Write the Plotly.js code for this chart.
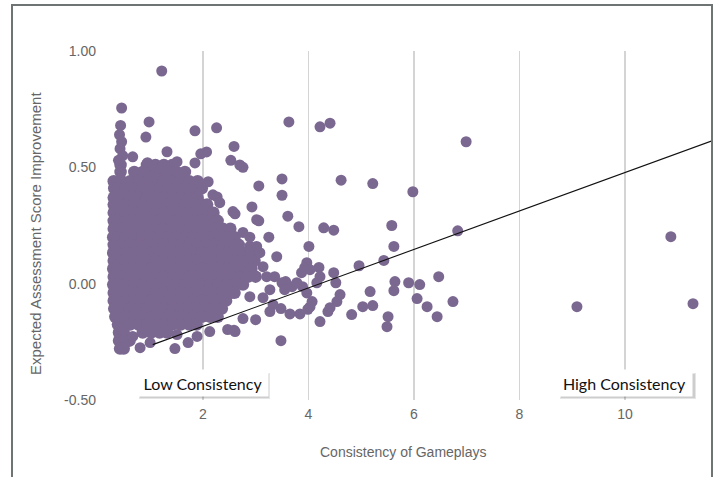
<!DOCTYPE html>
<html>
<head>
<meta charset="utf-8">
<script src="https://cdn.plot.ly/plotly-3.0.1.min.js"></script>
<style>
  html, body { margin: 0; padding: 0; background: #ffffff; }
  #chart { width: 716px; height: 477px; }
</style>
</head>
<body>
<div id="chart"></div>
<script>
// ---- Data ----
// Dense core of the cloud: one y level per row, with the x values found on that row
const coreLevels = [0.51, 0.48, 0.44, 0.41, 0.37, 0.34, 0.305, 0.27, 0.236, 0.20, 0.167, 0.133, 0.099, 0.064, 0.03, -0.004, -0.039, -0.073, -0.107, -0.142, -0.176, -0.21, -0.245, -0.279];
const coreRows = [
  [0.44, 0.94, 1.10, 1.26, 1.42],
  [0.44, 0.70, 0.86, 1.02, 1.18, 1.34, 1.50, 1.66],
  [0.31, 0.46, 0.62, 0.78, 0.94, 1.10, 1.26, 1.42, 1.58, 1.74, 1.90],
  [0.32, 0.38, 0.54, 0.70, 0.86, 1.02, 1.18, 1.34, 1.50, 1.66, 1.82, 1.98],
  [0.31, 0.46, 0.62, 0.78, 0.94, 1.10, 1.26, 1.42, 1.58, 1.74, 1.90],
  [0.31, 0.38, 0.54, 0.70, 0.86, 1.02, 1.18, 1.34, 1.50, 1.66, 1.82, 1.98, 2.08],
  [0.31, 0.46, 0.62, 0.78, 0.94, 1.10, 1.26, 1.42, 1.58, 1.74, 1.90, 2.06, 2.20],
  [0.31, 0.38, 0.54, 0.70, 0.86, 1.02, 1.18, 1.34, 1.50, 1.66, 1.82, 1.98, 2.14, 2.28],
  [0.31, 0.46, 0.62, 0.78, 0.94, 1.10, 1.26, 1.42, 1.58, 1.74, 1.90, 2.06, 2.22, 2.38, 2.52],
  [0.30, 0.38, 0.54, 0.70, 0.86, 1.02, 1.18, 1.34, 1.50, 1.66, 1.82, 1.98, 2.14, 2.30, 2.46, 2.60],
  [0.31, 0.46, 0.62, 0.78, 0.94, 1.10, 1.26, 1.42, 1.58, 1.74, 1.90, 2.06, 2.22, 2.38, 2.54, 2.68],
  [0.30, 0.38, 0.54, 0.70, 0.86, 1.02, 1.18, 1.34, 1.50, 1.66, 1.82, 1.98, 2.14, 2.30, 2.46, 2.62, 2.78, 2.92],
  [0.31, 0.46, 0.62, 0.78, 0.94, 1.10, 1.26, 1.42, 1.58, 1.74, 1.90, 2.06, 2.22, 2.38, 2.54, 2.70, 2.86, 2.98],
  [0.30, 0.38, 0.54, 0.70, 0.86, 1.02, 1.18, 1.34, 1.50, 1.66, 1.82, 1.98, 2.14, 2.30, 2.46, 2.62, 2.78, 2.92],
  [0.31, 0.46, 0.62, 0.78, 0.94, 1.10, 1.26, 1.42, 1.58, 1.74, 1.90, 2.06, 2.22, 2.38, 2.54, 2.70, 2.86, 3.00],
  [0.30, 0.38, 0.54, 0.70, 0.86, 1.02, 1.18, 1.34, 1.50, 1.66, 1.82, 1.98, 2.14, 2.30, 2.46, 2.62, 2.76],
  [0.31, 0.46, 0.62, 0.78, 0.94, 1.10, 1.26, 1.42, 1.58, 1.74, 1.90, 2.06, 2.22, 2.38, 2.54, 2.60],
  [0.31, 0.38, 0.54, 0.70, 0.86, 1.02, 1.18, 1.34, 1.50, 1.66, 1.82, 1.98, 2.14, 2.30, 2.44],
  [0.32, 0.46, 0.62, 0.78, 0.94, 1.10, 1.26, 1.42, 1.58, 1.74, 1.90, 2.06, 2.22, 2.36],
  [0.34, 0.38, 0.54, 0.70, 0.86, 1.02, 1.18, 1.34, 1.50, 1.66, 1.82, 1.98, 2.14, 2.28],
  [0.39, 0.46, 0.62, 0.78, 0.94, 1.10, 1.26, 1.42, 1.58, 1.74, 1.88],
  [0.41, 0.50, 0.86, 1.02, 1.18, 1.32],
  [0.41, 0.50, 0.61],
  [0.43, 0.50]
];

// Upper spikes of the cloud (top edge, left column)
const upperX = [1.22, 0.46, 0.98, 0.92, 0.44, 0.42, 0.46, 0.43, 0.48, 0.40, 1.85, 2.26, 1.32, 0.67, 1.51, 1.96, 2.07, 1.85, 2.59, 2.53, 2.70, 2.76, 1.18, 1.94, 2.10, 2.19, 2.27, 2.32, 2.57, 2.93, 3.02, 0.95, 1.05];
const upperY = [0.914, 0.755, 0.695, 0.63, 0.68, 0.64, 0.61, 0.58, 0.55, 0.53, 0.657, 0.67, 0.567, 0.545, 0.524, 0.558, 0.566, 0.519, 0.59, 0.53, 0.51, 0.50, 0.498, 0.433, 0.438, 0.382, 0.373, 0.348, 0.31, 0.33, 0.275, 0.52, 0.505];

// Points between x = 2.5 and x = 5
const midX = [3.63, 4.22, 4.41, 3.50, 3.06, 4.62, 3.50, 2.61, 3.61, 3.06, 3.82, 4.29, 4.48, 3.25, 4.01, 3.40, 3.97, 4.20, 4.48, 4.96, 4.16, 4.52, 4.60, 4.54, 4.82, 4.22, 4.37, 4.41, 3.99, 4.03, 3.84, 3.65, 3.48, 3.48, 3.00, 2.76, 2.59, 3.97, 4.07, 3.89, 3.57, 3.69, 3.78, 3.27, 3.33, 3.27, 3.14, 2.89, 3.50, 3.55, 3.36, 3.21, 3.14, 3.08, 3.02, 2.89, 2.89, 2.76, 3.93, 4.03, 4.22, 3.87];
const midY = [0.695, 0.674, 0.69, 0.45, 0.42, 0.445, 0.38, 0.30, 0.29, 0.27, 0.245, 0.24, 0.23, 0.20, 0.16, 0.116, 0.09, 0.07, 0.047, 0.077, 0.004, 0.004, -0.047, -0.077, -0.133, -0.163, -0.12, -0.103, -0.11, -0.10, -0.13, -0.13, -0.107, -0.245, -0.155, -0.15, -0.20, -0.04, -0.077, -0.013, 0.009, -0.013, 0.004, -0.026, -0.09, -0.12, -0.06, -0.056, 0.004, -0.026, 0.03, 0.03, 0.073, 0.133, 0.16, 0.16, 0.20, 0.22, 0.069, 0.06, 0.03, 0.047];

// Points to the right (x > 5)
const rightX = [6.99, 5.22, 5.98, 5.58, 6.83, 5.62, 5.43, 6.47, 5.64, 5.90, 6.11, 5.17, 5.62, 6.06, 6.74, 5.03, 5.22, 6.25, 5.51, 6.44, 5.49, 9.09, 10.87, 11.29];
const rightY = [0.61, 0.43, 0.395, 0.25, 0.227, 0.16, 0.10, 0.03, 0.009, 0.004, -0.004, -0.034, -0.03, -0.064, -0.077, -0.099, -0.094, -0.099, -0.142, -0.142, -0.185, -0.099, 0.202, -0.086];

// Points under the bottom edge of the cloud
const lowerX = [0.67, 0.81, 1.00, 1.47, 1.72, 1.89, 2.13, 1.51, 2.47, 2.61];
const lowerY = [-0.227, -0.275, -0.253, -0.279, -0.253, -0.227, -0.206, -0.219, -0.197, -0.206];

// Trend line end points
const trendX = [1.05, 11.65];
const trendY = [-0.262, 0.614];

// Axis ticks and labels
const xTicks = [2, 4, 6, 8, 10];
const yTicks = [-0.5, 0, 0.5, 1.0];
const yTickText = ['-0.50', '0.00', '0.50', '1.00'];
const xTitle = 'Consistency of Gameplays';
const yTitle = 'Expected Assessment Score Improvement';
const lowLabel = 'Low Consistency';
const highLabel = 'High Consistency';

// ---- Build the point lists ----
const coreX = [], coreY = [];
coreRows.forEach(function (row, i) {
  row.forEach(function (x) { coreX.push(x); coreY.push(coreLevels[i]); });
});
const looseX = [], looseY = [];
[[upperX, upperY], [midX, midY], [rightX, rightY], [lowerX, lowerY]].forEach(function (g) {
  g[0].forEach(function (x, i) { looseX.push(x); looseY.push(g[1][i]); });
});

const markerColor = '#7b6890';

const traces = [
  {
    type: 'scatter', mode: 'markers',
    x: coreX, y: coreY,
    marker: { color: markerColor, size: 12.5, opacity: 1, line: { width: 0 } },
    hoverinfo: 'skip', showlegend: false
  },
  {
    type: 'scatter', mode: 'markers',
    x: looseX, y: looseY,
    marker: { color: markerColor, size: 11, opacity: 1, line: { width: 0 } },
    hoverinfo: 'skip', showlegend: false
  },
  {
    type: 'scatter', mode: 'lines',
    x: trendX, y: trendY,
    line: { color: '#111111', width: 1.1 },
    hoverinfo: 'skip', showlegend: false
  }
];

const px0 = 100, pw = 612, py0 = 51, ph = 349;
function pxX(p) { return (p - px0) / pw; }
function pxY(p) { return (py0 + ph - p) / ph; }

const frameColor = '#6e7373';
const shapes = [
  { type: 'line', xref: 'paper', yref: 'paper', x0: pxX(12), x1: pxX(12), y0: pxY(5), y1: pxY(490), line: { color: frameColor, width: 2 } },
  { type: 'line', xref: 'paper', yref: 'paper', x0: pxX(11), x1: pxX(713), y0: pxY(5), y1: pxY(5), line: { color: frameColor, width: 2 } },
  { type: 'line', xref: 'paper', yref: 'paper', x0: pxX(712), x1: pxX(712), y0: pxY(5), y1: pxY(490), line: { color: frameColor, width: 2 } },
  // soft shadows under the two labels
  { type: 'rect', xref: 'paper', yref: 'paper', layer: 'above', x0: pxX(139), x1: pxX(270), y0: pxY(399), y1: pxY(373), fillcolor: 'rgba(0,0,0,0.10)', line: { width: 0 } },
  { type: 'rect', xref: 'paper', yref: 'paper', layer: 'above', x0: pxX(140), x1: pxX(269), y0: pxY(398), y1: pxY(374), fillcolor: 'rgba(0,0,0,0.10)', line: { width: 0 } },
  { type: 'rect', xref: 'paper', yref: 'paper', layer: 'above', x0: pxX(560), x1: pxX(696), y0: pxY(399), y1: pxY(373), fillcolor: 'rgba(0,0,0,0.10)', line: { width: 0 } },
  { type: 'rect', xref: 'paper', yref: 'paper', layer: 'above', x0: pxX(561), x1: pxX(695), y0: pxY(398), y1: pxY(374), fillcolor: 'rgba(0,0,0,0.10)', line: { width: 0 } }
];

const labelFont = { family: 'Lato, "Open Sans", sans-serif', size: 16, color: '#111111' };
const titleFontFamily = 'Arial, "Liberation Sans", sans-serif';
const annotations = [
  { x: xTicks[0], y: -0.425, xref: 'x', yref: 'y', text: lowLabel, showarrow: false, font: labelFont, bgcolor: '#ffffff', borderpad: 3, width: 124, height: 20, xanchor: 'center', yanchor: 'middle' },
  { x: xTicks[4], y: -0.425, xref: 'x', yref: 'y', text: highLabel, showarrow: false, font: labelFont, bgcolor: '#ffffff', borderpad: 3, width: 129, height: 20, xanchor: 'center', yanchor: 'middle' },
  // axis titles
  { x: pxX(403), y: pxY(452), xref: 'paper', yref: 'paper', text: xTitle, showarrow: false, xanchor: 'center', yanchor: 'middle', font: { family: titleFontFamily, size: 14, color: '#666666' } },
  { x: pxX(35), y: pxY(234), xref: 'paper', yref: 'paper', text: yTitle, showarrow: false, textangle: -90, xanchor: 'center', yanchor: 'middle', font: { family: titleFontFamily, size: 15, color: '#666666' } }
];

const axisFont = { family: titleFontFamily, size: 14, color: '#666666' };

const layout = {
  width: 716, height: 477,
  margin: { l: 100, r: 4, t: 51, b: 77, pad: 0 },
  paper_bgcolor: '#ffffff', plot_bgcolor: '#ffffff',
  showlegend: false,
  xaxis: {
    range: [0.05, 11.65],
    tickvals: xTicks, ticktext: xTicks.map(String),
    showgrid: true, gridcolor: '#d4d4d4', gridwidth: 1.5,
    zeroline: false, showline: false, ticks: '',
    tickfont: axisFont, ticklabelstandoff: 4
  },
  yaxis: {
    range: [-0.5, 1.0],
    tickvals: yTicks, ticktext: yTickText,
    showgrid: false, zeroline: false, showline: false, ticks: '',
    tickfont: axisFont, ticklabelstandoff: 3
  },
  shapes: shapes,
  annotations: annotations
};

Plotly.newPlot('chart', traces, layout, { staticPlot: true, displayModeBar: false });
</script>
</body>
</html>
